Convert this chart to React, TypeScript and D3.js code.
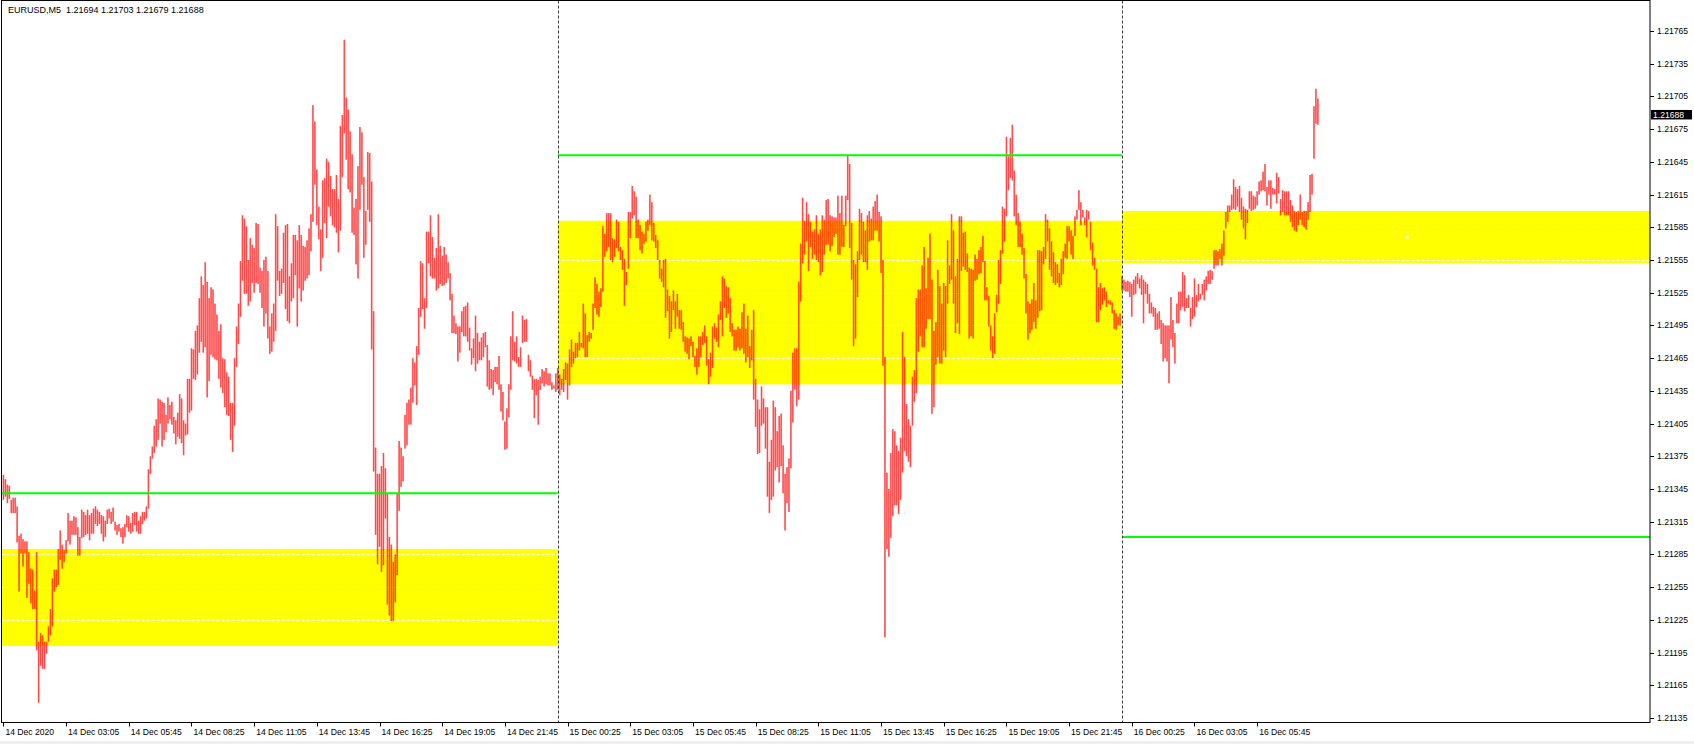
import React, { useEffect } from "react";
import * as d3 from "d3";

// ---------- DATA (prices stored as points above 1.21000) ----------
const BASE = 1.21;
const symbolTitle = "EURUSD,M5  1.21694 1.21703 1.21679 1.21688";
const lastPrice = 1.21688;

const highs14 = [
358,354,349,348,335,337,337,329,302,304, 299,297,297,287,272,271,252,287,205,213,
211,205,205,219,235,263,271,271,290,307, 294,289,298,323,316,316,320,319,310,301,
326,324,321,326,321,323,327,329,326,324, 321,320,316,326,327,324,328,315,312,313,
309,310,313,321,320,314,323,324,324,316, 320,324,324,329,363,375,384,403,409,428,
427,425,424,413,429,422,425,411,408,415, 432,428,408,405,446,446,474,473,490,495,
520,540,532,553,535,520,530,528,515,505, 490,496,465,464,452,448,424,424,465,494,
515,554,596,593,586,555,575,569,566,589, 588,548,545,555,558,545,494,506,515,597,
586,545,547,580,587,588,540,552,578,578, 573,587,578,568,567,573,584,597,697,682,
638,604,583,628,630,648,645,632,620,620, 633,611,678,688,757,704,693,673,652,603,
611,641,677,672,631,600,654,653,627,508, 383,359,359,366,378,364,341,301,294,278,
285,341,389,383,375,413,424,427,438,465, 461,476,511,554,552,520,581,581,596,576,
557,566,597,568,559,567,560,553,543,524, 504,497,494,494,508,512,513,516,493,474,
483,504,488,480,484,488,489,477,463,455, 454,457,457,467,441,434,407,419,441,485,
508,480,485,466,475,504,500,501,468,463, 449,446,446,445,448,455,453,456,451,451,
443,440,451];
const lows14 = [
335,338,332,336,323,323,323,296,251,286, 274,286,245,258,240,235,235,197,149,183,
180,180,194,205,211,219,251,255,257,280, 272,278,286,297,294,303,303,303,284,284,
300,301,303,304,298,304,304,313,311,313, 304,297,301,313,318,313,315,307,303,306,
301,295,301,310,306,304,306,312,306,304, 304,313,316,318,327,359,373,378,384,390,
405,384,390,397,405,409,404,396,386,393, 391,387,376,394,395,415,417,446,445,450,
470,480,470,475,429,444,468,466,464,463, 446,438,433,420,413,412,390,379,403,457,
478,503,536,524,524,513,517,534,525,534, 533,525,511,494,506,483,469,471,480,490,
536,522,524,534,510,499,497,517,520,541, 494,529,517,527,536,538,541,563,590,624,
587,574,545,557,589,575,604,595,587,585, 580,562,582,631,671,647,620,617,580,578,
551,538,601,624,557,569,601,590,473,361, 303,276,292,269,275,318,239,229,224,224,
241,266,325,347,352,382,385,404,404,424, 440,422,468,503,510,492,511,552,540,538,
538,527,529,533,531,532,534,538,518,488, 488,487,462,470,489,485,485,480,472,459,
465,453,460,463,463,466,475,439,436,437, 431,443,441,436,416,408,381,382,411,436,
463,462,460,457,457,479,480,480,453,448, 436,410,431,404,436,442,439,441,440,440,
436,437,434];

const highs15 = [
456,450,446,455,461,460,473,482,471,479, 479,489,479,515,506,486,489,488,515,539,
533,526,529,586,579,598,598,598,575,574, 592,590,567,564,556,544,599,599,623,618,
613,592,587,581,579,590,592,615,608,589, 578,573,555,547,555,556,528,522,517,527,
517,524,509,509,498,485,484,483,485,480, 467,474,485,485,489,495,485,464,470,494,
497,493,505,517,540,538,531,530,520,497, 491,491,494,492,507,515,492,504,476,491,
509,446,427,418,439,428,420,420,370,390, 426,420,398,412,414,385,359,365,373,435,
470,474,474,535,570,612,591,608,597,590, 581,583,596,579,583,596,592,610,611,596,
595,594,594,614,598,614,587,614,651,643, 589,555,551,563,602,598,590,582,596,600,
593,604,609,615,599,595,555,466,360,345, 378,400,398,385,380,392,489,466,423,409,
403,448,454,520,528,528,550,567,529,557, 579,537,490,498,546,531,515,534,531,573,
550,597,582,540,556,595,595,580,581,561, 548,547,546,560,556,564,567,577,554,530,
522,495,485,506,523,555,564,604,602,668, 650,667,679,637,615,598,590,579,566,542,
517,515,519,534,518,564,564,563,567,597, 592,584,572,562,553,551,543,556,563,570,
586,586,582,577,595,601,619,608,601,594, 601,600,590,571,557,547,530,534,529,530,
526,518,518,516,509,506,503,506];
const lows15 = [
436,431,436,434,445,427,440,457,460,465, 466,472,475,474,466,466,480,483,491,511,
505,503,512,526,558,563,567,555,553,558, 566,563,555,546,513,532,547,575,593,596,
575,575,564,561,570,572,582,587,573,572, 566,555,538,535,530,502,508,483,489,509,
492,503,492,491,480,471,469,464,476,466, 457,450,457,466,477,479,458,441,448,456,
483,480,475,500,485,511,502,506,489,485, 472,472,475,472,474,469,461,466,456,463,
427,402,377,378,403,405,382,338,323,335, 338,362,365,351,366,341,307,332,324,364,
406,436,421,427,517,552,560,572,545,567, 556,560,555,553,541,544,560,569,569,563,
568,576,579,560,560,567,567,586,610,566, 537,476,483,521,555,560,553,553,546,572,
573,573,582,582,572,543,458,209,290,283, 300,320,330,330,322,335,360,380,375,370,
365,403,425,433,471,485,475,475,492,501, 501,414,420,459,466,460,460,472,466,515,
533,537,515,488,497,487,545,549,546,544, 483,485,483,536,537,542,543,553,518,518,
494,472,465,469,507,515,533,561,572,595, 619,630,628,595,587,567,567,560,538,506,
482,488,491,498,492,502,508,509,551,556, 572,546,540,534,532,534,530,532,542,557,
556,572,560,556,577,592,601,587,594,587, 576,592,564,550,546,498,498,509,514,518,
512,515,514,506,492,491,495,495];

const highs16 = [
540,537,535,536,535,533,537,540,543,538, 541,537,535,533,524,516,512,511,506,508,
500,497,495,495,495,521,500,488,515,526, 526,544,541,520,523,511,521,538,523,533,
524,533,537,540,545,546,545,564,564,563, 565,570,582,599,605,605,615,629,622,620,
623,612,604,602,601,618,618,614,613,618, 627,628,636,643,622,628,628,621,620,635,
631,611,619,618,618,618,610,605,600,599, 600,615,599,600,600,608,633,634,696,712,
703];
const lows16 = [
527,527,526,526,521,503,523,524,533,529, 523,497,524,515,506,506,503,491,491,492,
478,462,465,462,442,482,475,460,497,497, 509,512,508,511,511,494,501,503,512,517,
519,523,518,527,533,533,537,547,550,550, 556,550,559,584,590,599,601,602,601,604,
599,592,584,574,589,602,600,601,602,605, 615,618,619,618,605,615,602,615,615,607,
616,596,599,596,596,596,590,585,582,581, 587,592,587,585,583,592,599,615,648,680,
679];

// Daily zones and levels (14 Dec, 15 Dec, 16 Dec)
const zoneLow = [1.21201, 1.21441, 1.21552];
const zoneHigh = [1.2129, 1.21591, 1.216];
const greenLevels = [1.21341, 1.21651, 1.21301];
const firstBarOffset = 5; // first bar is 14 Dec 00:25 (5 bars after 00:00)
const barsPerDay = 288;

const priceTicks = [
  1.21135, 1.21165, 1.21195, 1.21225, 1.21255, 1.21285, 1.21315, 1.21345, 1.21375, 1.21405, 1.21435,
  1.21465, 1.21495, 1.21525, 1.21555, 1.21585, 1.21615, 1.21645, 1.21675, 1.21705, 1.21735, 1.21765,
];
const timeLabels = [
  "14 Dec 2020", "14 Dec 03:05", "14 Dec 05:45", "14 Dec 08:25", "14 Dec 11:05", "14 Dec 13:45",
  "14 Dec 16:25", "14 Dec 19:05", "14 Dec 21:45", "15 Dec 00:25", "15 Dec 03:05", "15 Dec 05:45",
  "15 Dec 08:25", "15 Dec 11:05", "15 Dec 13:45", "15 Dec 16:25", "15 Dec 19:05", "15 Dec 21:45",
  "16 Dec 00:25", "16 Dec 03:05", "16 Dec 05:45",
];
const barsPerLabel = 32;
const markerPoint = { bar: 716.5, price: 1.21576 };

// ---------- LAYOUT ----------
const W = 1694;
const H = 744;
const plot = { left: 1.5, top: 0.5, right: 1650, bottom: 722.5 };
const FONT = "'Liberation Sans', Arial, sans-serif";

export default function App() {
  useEffect(() => {
    document.body.style.margin = "0";
  }, []);

  const highs = [...highs14, ...highs15, ...highs16].map((v) => BASE + v / 1e5);
  const lows = [...lows14, ...lows15, ...lows16].map((v) => BASE + v / 1e5);
  const n = highs.length;

  const x = d3.scaleLinear().domain([0, n - 1]).range([3.4, 3.4 + (n - 1) * 1.959]);
  const y = d3.scaleLinear().domain([1.21135, 1.21765]).range([718, 31]);

  const dayStarts = [-firstBarOffset, highs14.length, highs14.length + highs15.length];
  const dayEnds = dayStarts.map((s) => s + barsPerDay);
  const clampX = (v: number) => Math.max(plot.left, Math.min(plot.right, v));

  return (
    <svg
      width={W}
      height={H}
      style={{ position: "absolute", left: 0, top: 0, display: "block", background: "#fff" }}
    >
      <defs>
        <clipPath id="plotClip">
          <rect x={plot.left} y={plot.top} width={plot.right - plot.left} height={plot.bottom - plot.top} />
        </clipPath>
      </defs>
      <rect x={0} y={0} width={W} height={H} fill="#ffffff" />
      <rect x={0} y={741} width={W} height={3} fill="#f0f0f0" />

      <g clipPath="url(#plotClip)">
        {/* yellow zones */}
        {zoneLow.map((lo, d) => (
          <rect
            key={"z" + d}
            x={clampX(x(dayStarts[d]))}
            y={y(zoneHigh[d])}
            width={clampX(x(dayEnds[d])) - clampX(x(dayStarts[d]))}
            height={y(lo) - y(zoneHigh[d])}
            fill="#ffff00"
          />
        ))}
        {/* white dashed grid (visible over yellow) */}
        {priceTicks.map((p) => (
          <line
            key={"g" + p}
            x1={plot.left}
            x2={plot.right}
            y1={Math.round(y(p)) + 0.5}
            y2={Math.round(y(p)) + 0.5}
            stroke="#ffffff"
            strokeWidth={1}
            strokeDasharray="3,2"
          />
        ))}
        {/* bars */}
        {highs.map((h, i) => {
          const y1 = y(h);
          const y2 = y(lows[i]);
          const hh = Math.max(1, y2 - y1);
          return (
            <g key={"b" + i}>
              <rect x={x(i) - 0.9} y={y1} width={1.8} height={hh} fill="#ff0000" fillOpacity={0.5} />
              <rect x={x(i) - 0.35} y={y1} width={0.7} height={hh} fill="#ff0000" fillOpacity={0.6} />
            </g>
          );
        })}
        {/* green levels */}
        {greenLevels.map((p, d) => (
          <line
            key={"l" + d}
            x1={clampX(x(dayStarts[d]))}
            x2={clampX(x(dayEnds[d]))}
            y1={y(p)}
            y2={y(p)}
            stroke="#00ff00"
            strokeWidth={2}
          />
        ))}
        {/* period separators */}
        {dayStarts.slice(1).map((s) => (
          <line
            key={"s" + s}
            x1={Math.round(x(s)) + 0.5}
            x2={Math.round(x(s)) + 0.5}
            y1={plot.top}
            y2={plot.bottom}
            stroke="#3a3a3a"
            strokeWidth={1}
            strokeDasharray="3,2"
          />
        ))}
        <rect x={x(markerPoint.bar) - 1} y={y(markerPoint.price) - 1} width={2.5} height={2.5} fill="#ffffff" />
      </g>

      {/* frame */}
      <rect
        x={plot.left}
        y={plot.top}
        width={plot.right - plot.left}
        height={plot.bottom - plot.top}
        fill="none"
        stroke="#000"
        strokeWidth={1}
      />

      {/* title */}
      <text x={8} y={12.5} fontFamily={FONT} fontSize={9} fill="#000" style={{ whiteSpace: "pre" }}>
        {symbolTitle}
      </text>

      {/* price axis */}
      {priceTicks.map((p) => (
        <g key={"pt" + p}>
          <line x1={plot.right} x2={plot.right + 4} y1={Math.round(y(p)) + 0.5} y2={Math.round(y(p)) + 0.5} stroke="#000" />
          <text x={1657} y={y(p) + 3} fontFamily={FONT} fontSize={8.6} fill="#000">
            {p.toFixed(5)}
          </text>
        </g>
      ))}
      <rect x={1651} y={y(lastPrice) - 5} width={41} height={9.5} fill="#000" />
      <text x={1653} y={y(lastPrice) + 3} fontFamily={FONT} fontSize={8.6} fill="#fff">
        {lastPrice.toFixed(5)}
      </text>

      {/* time axis */}
      {timeLabels.map((lab, k) => {
        const xi = x(k * barsPerLabel);
        return (
          <g key={"tt" + k}>
            <line x1={Math.round(xi) + 0.5} x2={Math.round(xi) + 0.5} y1={plot.bottom} y2={plot.bottom + 4} stroke="#000" />
            <text x={xi + 2} y={734.5} fontFamily={FONT} fontSize={8.6} fill="#000">
              {lab}
            </text>
          </g>
        );
      })}
    </svg>
  );
}
